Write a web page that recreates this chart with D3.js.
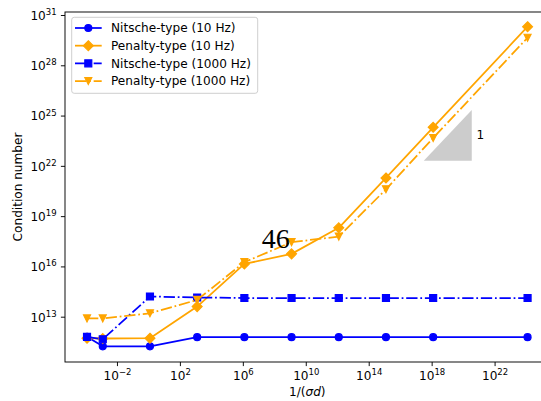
<!DOCTYPE html>
<html><head><meta charset="utf-8">
<script src="https://cdn.jsdelivr.net/npm/d3@7"></script>
<style>body{margin:0;background:#fff} svg text{font-family:"DejaVu Sans",sans-serif;fill:#000}</style>
</head><body><svg id="c" width="541" height="401"></svg>
<script>
// ---- data ----
const xValues = [1.25e-4, 1.25e-3, 1.25, 1.25e3, 1.25e6, 1.25e9, 1.25e12, 1.25e15, 1.25e18, 1.25e24];
const nitsche10 = [6.3e11, 1.7e11, 1.7e11, 6.0e11, 6.0e11, 6.0e11, 6.0e11, 6.0e11, 6.0e11, 6.0e11];
const penalty10 = [5.2e11, 5.0e11, 5.2e11, 4.0e13, 1.4e16, 5.6e16, 2.0e18, 1.9e21, 2.0e24, 2.0e30];
const nitsche1000 = [6.3e11, 4.5e11, 1.6e14, 1.4e14, 1.3e14, 1.3e14, 1.3e14, 1.3e14, 1.3e14, 1.3e14];
const penalty1000 = [7.9e12, 7.9e12, 1.6e13, 1.0e14, 1.8e16, 2.8e17, 6.0e17, 4.0e20, 4.6e23, 4.4e29];
const seriesNames = ["Nitsche-type (10 Hz)", "Penalty-type (10 Hz)", "Nitsche-type (1000 Hz)", "Penalty-type (1000 Hz)"];
const xTickValues = [1e-2, 1e2, 1e6, 1e10, 1e14, 1e18, 1e22];
const xTickExps = ["\u22122", "2", "6", "10", "14", "18", "22"];
const yTickValues = [1e13, 1e16, 1e19, 1e22, 1e25, 1e28, 1e31];
const yTickExps = ["13", "16", "19", "22", "25", "28", "31"];
const slopeTriangle = [[10**17.5, 10**22.3], [10**20.55, 10**22.3], [10**20.55, 10**25.33]];
const slopeLabel = {x: 10**21.1, y: 10**23.84, text: "1"};
const pageMark = {x: 10**7.2, y: 10**17.08, text: "46"};

// ---- layout ----
const svg = d3.select("#c");
const L = 65, R = 549.6, T = 12, B = 362;
const x = d3.scaleLog().domain([10**-5.303, 10**25.497]).range([L, R]);
const y = d3.scaleLog().domain([10**10.297, 10**31.179]).range([B, T]);
const FS = 12.1;

const series = [
  {name: seriesNames[0], vals: nitsche10, color: "#0000ff", marker: "o", dash: null},
  {name: seriesNames[1], vals: penalty10, color: "#ffa500", marker: "D", dash: null},
  {name: seriesNames[2], vals: nitsche1000, color: "#0000ff", marker: "s", dash: "11.3,2.8,1.76,2.8"},
  {name: seriesNames[3], vals: penalty1000, color: "#ffa500", marker: "v", dash: "11.3,2.8,1.76,2.8"}
];

function markerPath(m) {
  const p = d3.path();
  const h = 3.5;
  if (m === "o") { p.arc(0, 0, h, 0, 2 * Math.PI); }
  else if (m === "s") { p.rect(-h, -h, 2 * h, 2 * h); }
  else if (m === "D") { const d = h * Math.SQRT2; p.moveTo(0, -d); p.lineTo(d, 0); p.lineTo(0, d); p.lineTo(-d, 0); p.closePath(); }
  else if (m === "v") { p.moveTo(0, h); p.lineTo(-h, -h); p.lineTo(h, -h); p.closePath(); }
  return p.toString();
}

// slope triangle
svg.append("path")
  .attr("d", d3.line().x(d => x(d[0])).y(d => y(d[1]))(slopeTriangle) + "Z")
  .attr("fill", "#cccccc");
svg.append("text").attr("x", x(slopeLabel.x)).attr("y", y(slopeLabel.y))
  .attr("text-anchor", "middle").attr("dy", "0.36em").attr("font-size", FS).text(slopeLabel.text);

// series
const line = d3.line().x((d, i) => x(xValues[i])).y(d => y(d));
series.forEach(s => {
  const g = svg.append("g");
  g.append("path").attr("d", line(s.vals)).attr("fill", "none")
    .attr("stroke", s.color).attr("stroke-width", 1.76)
    .attr("stroke-dasharray", s.dash).attr("stroke-linejoin", "round");
  g.selectAll("path.m").data(s.vals).enter().append("path").attr("class", "m")
    .attr("d", markerPath(s.marker))
    .attr("transform", (d, i) => `translate(${x(xValues[i])},${y(d)})`)
    .attr("fill", s.color).attr("stroke", s.color).attr("stroke-width", 1.17);
});

// page mark text
svg.append("text").attr("x", x(pageMark.x)).attr("y", y(pageMark.y))
  .style("font-family", "'Liberation Serif','DejaVu Serif',serif")
  .attr("font-size", 28).text(pageMark.text);

// axes
const xAxis = svg.append("g").attr("transform", `translate(0,${B})`)
  .call(d3.axisBottom(x).tickValues(xTickValues).tickSize(4.1).tickPadding(4.1).tickSizeOuter(0));
xAxis.select(".domain").remove();
xAxis.selectAll(".tick line").attr("stroke", "#000").attr("stroke-width", 0.94);
xAxis.selectAll(".tick text").each(function(d, i) {
  const t = d3.select(this).text(null).attr("font-size", FS).attr("font-family", null).attr("dy", null).attr("y", 18);
  t.append("tspan").text("10");
  t.append("tspan").attr("font-size", 8.5).attr("dy", -4.8).text(xTickExps[i]);
});

const yAxis = svg.append("g").attr("transform", `translate(${L},0)`)
  .call(d3.axisLeft(y).tickValues(yTickValues).tickSize(4.1).tickPadding(4.1).tickSizeOuter(0));
yAxis.select(".domain").remove();
yAxis.selectAll(".tick line").attr("stroke", "#000").attr("stroke-width", 0.94);
yAxis.selectAll(".tick text").each(function(d, i) {
  const t = d3.select(this).text(null).attr("font-size", FS).attr("font-family", null).attr("dy", null).attr("y", 4.3).attr("x", -8.4);
  t.append("tspan").text("10");
  t.append("tspan").attr("font-size", 8.5).attr("dy", -4.8).text(yTickExps[i]);
});

// spines
svg.append("rect").attr("x", L).attr("y", T).attr("width", R - L).attr("height", B - T)
  .attr("fill", "none").attr("stroke", "#000").attr("stroke-width", 0.94);

// axis labels
const xl = svg.append("text").attr("x", (L + R) / 2).attr("y", 396).attr("text-anchor", "middle").attr("font-size", FS);
xl.append("tspan").text("1/(");
xl.append("tspan").attr("font-style", "italic").text("\u03c3d");
xl.append("tspan").text(")");
svg.append("text").attr("transform", `translate(21.5,${(T + B) / 2}) rotate(-90)`)
  .attr("text-anchor", "middle").attr("font-size", FS).text("Condition number");

// legend
const lg = svg.append("g");
lg.append("rect").attr("x", 71.7).attr("y", 17.3).attr("width", 186).attr("height", 76).attr("rx", 2.5)
  .attr("fill", "#fff").attr("fill-opacity", 0.8).attr("stroke", "#cccccc").attr("stroke-width", 0.94);
series.forEach((s, i) => {
  const cy = 28 + i * 17.67;
  lg.append("line").attr("x1", 75).attr("x2", 101.7).attr("y1", cy).attr("y2", cy)
    .attr("stroke", s.color).attr("stroke-width", 1.76).attr("stroke-dasharray", s.dash);
  lg.append("path").attr("d", markerPath(s.marker)).attr("transform", `translate(88.3,${cy})`)
    .attr("fill", s.color).attr("stroke", s.color).attr("stroke-width", 1.17);
  lg.append("text").attr("x", 111).attr("y", cy + 4.3).attr("font-size", FS).text(s.name);
});
</script></body></html>
